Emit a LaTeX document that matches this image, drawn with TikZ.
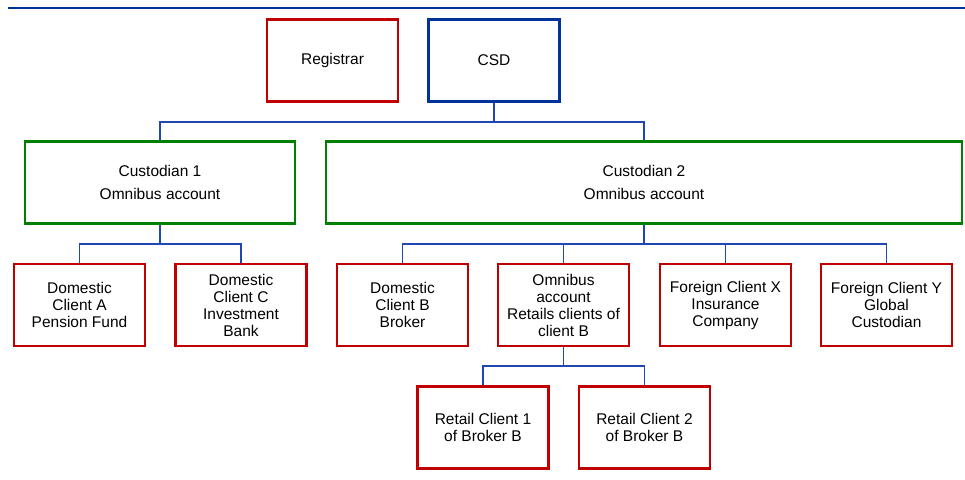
\documentclass[tikz,border=0pt]{standalone}
\usepackage{fontspec}
\setmainfont{Liberation Sans}
\definecolor{boxred}{RGB}{192,0,0}
\definecolor{boxblue}{RGB}{0,51,153}
\definecolor{boxgreen}{RGB}{0,128,0}
\definecolor{linkblue}{RGB}{30,70,180}
\tikzstyle{holder}=[rectangle,draw=boxred,line width=2.2pt,minimum width=131pt,minimum height=82pt,inner sep=2pt,align=center,font=\fontsize{15.5}{17}\selectfont]
\tikzstyle{custodian}=[holder,draw=boxgreen,minimum height=82pt]
\tikzstyle{link}=[draw=linkblue,line width=1.3pt]

\begin{document}
\begin{tikzpicture}[x=1pt,y=-1pt]
\useasboundingbox (0,0) rectangle (965,479);
\draw[boxblue,line width=2.4pt] (8,8) -- (965,8);

\node[holder] (registrar) at (332.5, 60.5) {Registrar};
\node[holder,draw=boxblue] (csd) at (494, 60.5) {CSD};

\node[custodian,minimum width=270pt] (cust1) at (160, 182.5) {Custodian 1\\[6pt]Omnibus account};
\node[custodian,minimum width=636pt] (cust2) at (644, 182.5) {Custodian 2\\[6pt]Omnibus account};

\node[holder] (clientA)  at (79.5, 305)  {Domestic\\Client A\\Pension Fund};
\node[holder] (clientC)  at (241, 305)   {Domestic\\Client C\\Investment\\Bank};
\node[holder] (clientB)  at (402.5, 305) {Domestic\\Client B\\Broker};
\node[holder] (omnibus)  at (563.5, 305) {Omnibus\\account\\Retails clients of\\client B};
\node[holder] (foreignX) at (725.5, 305) {Foreign Client X\\Insurance\\Company};
\node[holder] (foreignY) at (886.5, 305) {Foreign Client Y\\Global\\Custodian};

\node[holder] (retail1) at (483, 427.5)   {Retail Client 1\\of Broker B};
\node[holder] (retail2) at (644.5, 427.5) {Retail Client 2\\of Broker B};

\coordinate (bus1) at (494, 122);
\coordinate (bus2) at (160, 244);
\coordinate (bus3) at (644, 244);
\coordinate (bus4) at (563.5, 366);

\draw[link] (csd) -- (bus1);
\draw[link] (bus1) -| (cust1);
\draw[link] (bus1) -| (cust2);

\draw[link] (cust1) -- (bus2);
\draw[link] (bus2) -| (clientA);
\draw[link] (bus2) -| (clientC);

\draw[link] (cust2) -- (bus3);
\draw[link] (bus3) -| (clientB);
\draw[link] (bus3) -| (omnibus);
\draw[link] (bus3) -| (foreignX);
\draw[link] (bus3) -| (foreignY);

\draw[link] (omnibus) -- (bus4);
\draw[link] (bus4) -| (retail1);
\draw[link] (bus4) -| (retail2);

\end{tikzpicture}
\end{document}
